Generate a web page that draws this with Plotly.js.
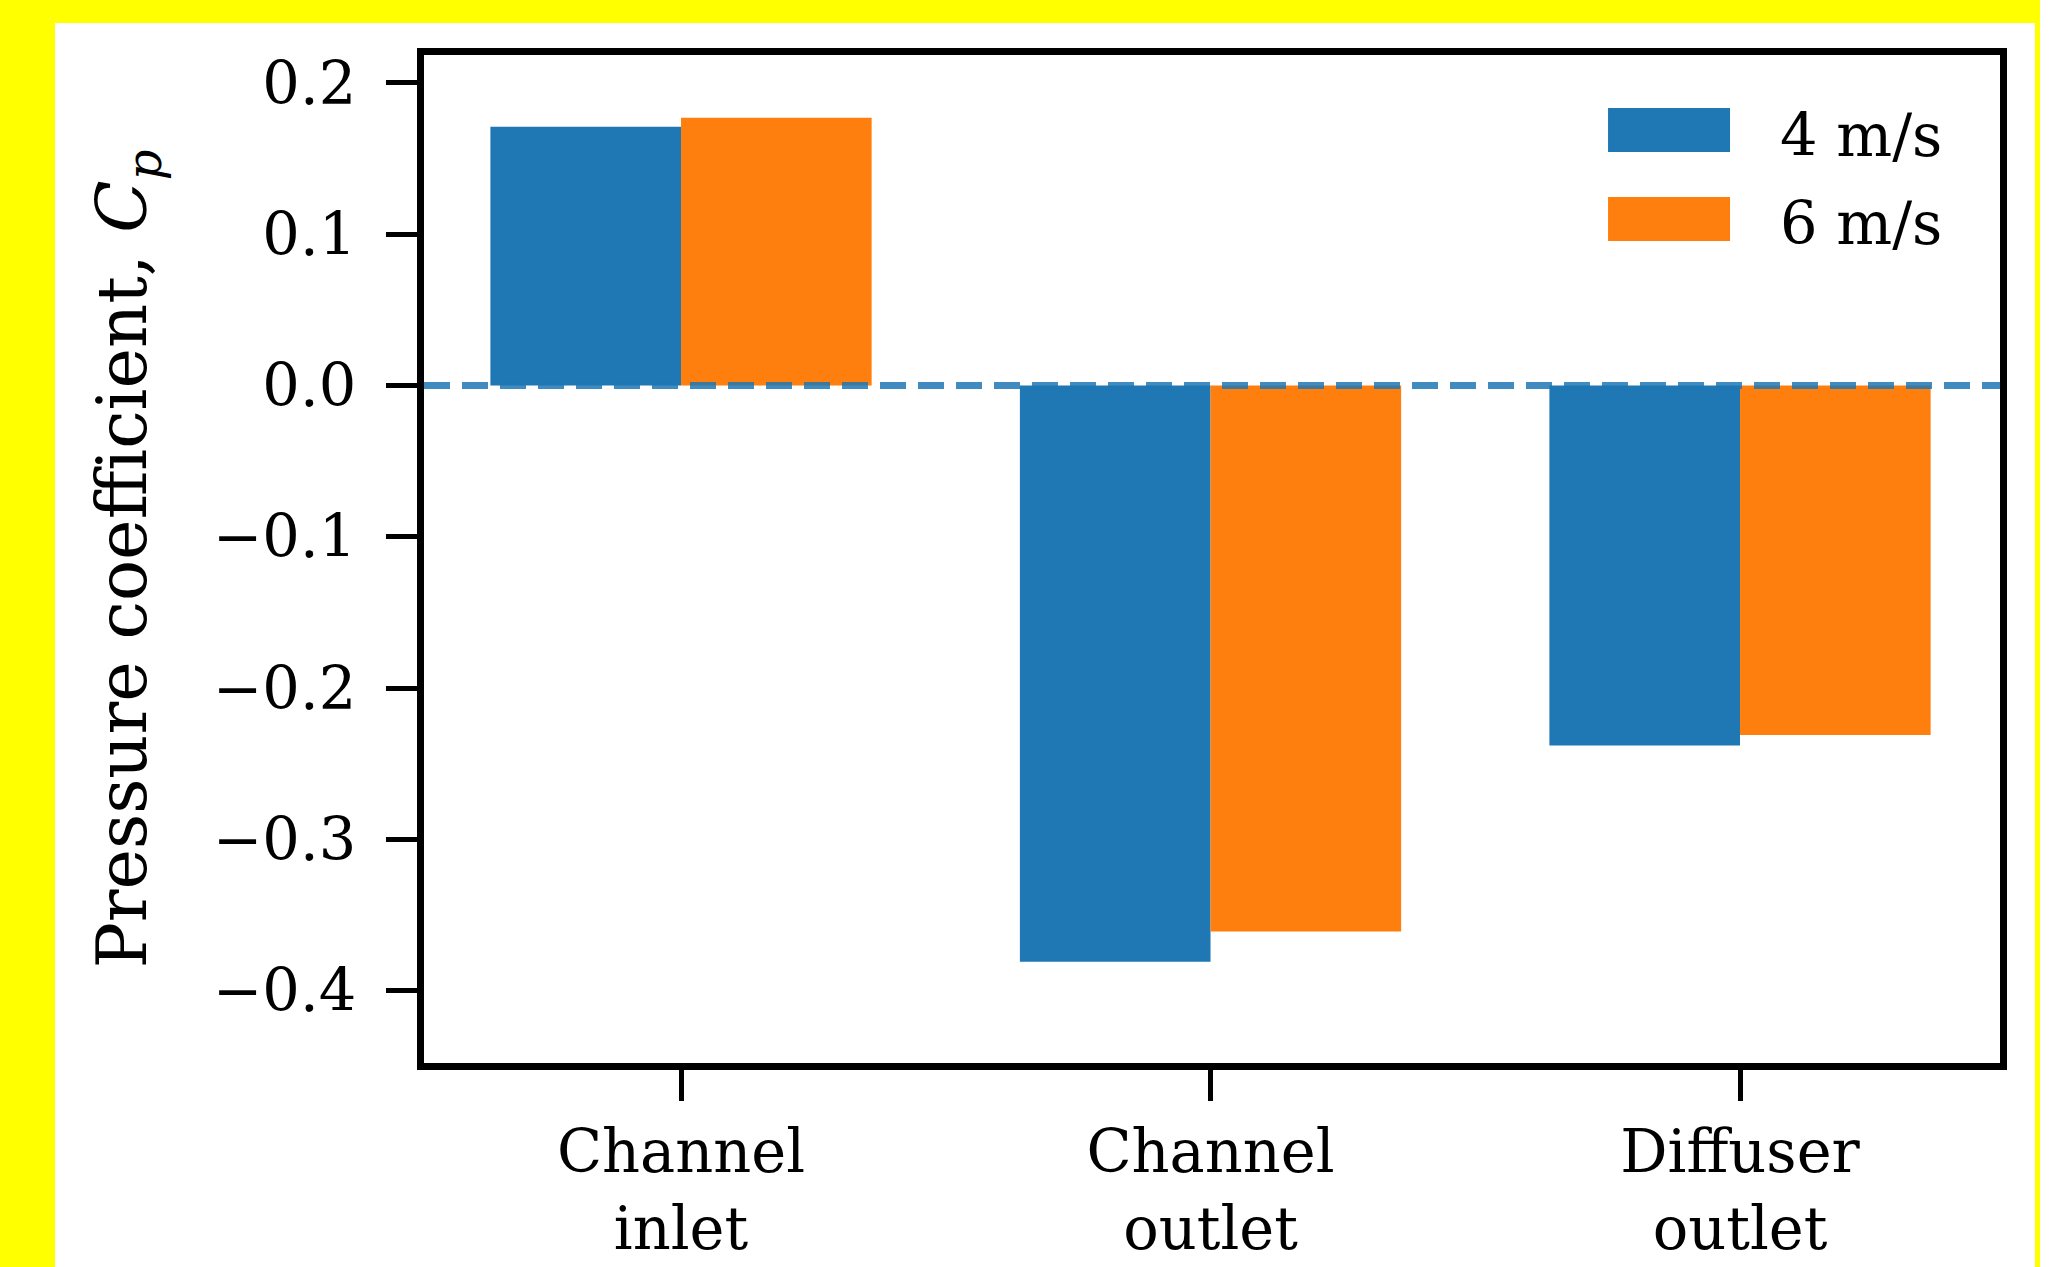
<!DOCTYPE html>
<html>
<head>
<meta charset="utf-8">
<script src="https://cdn.plot.ly/plotly-3.0.1.min.js"></script>
<style>
  html, body { margin: 0; padding: 0; background: #ffffff; width: 2072px; height: 1267px; overflow: hidden; }
  #frame { position: absolute; left: 0; top: 0; width: 2040px; height: 1267px; background: #ffff00; }
  #chart { position: absolute; left: 55px; top: 23px; width: 1980px; height: 1244px; background: #ffffff; }
</style>
</head>
<body>
<div id="frame"></div>
<div id="chart"></div>
<script>
// Pressure coefficient at three measurement stations, two inflow speeds
const categories = ['Channel inlet', 'Channel outlet', 'Diffuser outlet'];
const tickLabels = ['Channel<br>inlet', 'Channel<br>outlet', 'Diffuser<br>outlet'];
const seriesNames = ['4 m/s', '6 m/s'];
const cp4 = [0.171, -0.381, -0.238];
const cp6 = [0.177, -0.361, -0.231];
const yTicks = [-0.4, -0.3, -0.2, -0.1, 0.0, 0.1, 0.2];

const colors = ['#1f77b4', '#ff7f0e'];
const fontFamily = 'DejaVu Serif, Liberation Serif, serif';

const traces = [cp4, cp6].map((vals, i) => ({
  type: 'bar',
  x: categories,
  y: vals,
  name: seriesNames[i],
  marker: { color: colors[i], line: { width: 0 } },
  showlegend: false,
  hoverinfo: 'x+y'
}));

// legend drawn as large patches with labels, placed in the upper right of the axes
const legendPatchX = [0.7513, 0.8287];
const legendRows = [[0.9038, 0.9474], [0.8156, 0.8592]];
const legendShapes = legendRows.map((r, i) => ({
  type: 'rect', xref: 'paper', yref: 'paper',
  x0: legendPatchX[0], x1: legendPatchX[1], y0: r[0], y1: r[1],
  fillcolor: colors[i], line: { width: 0 }, layer: 'above'
}));
const legendLabels = legendRows.map((r, i) => ({
  xref: 'paper', yref: 'paper',
  x: 0.8591, y: (r[0] + r[1]) / 2 - 0.005,
  xanchor: 'left', yanchor: 'middle',
  text: seriesNames[i], showarrow: false,
  font: { family: fontFamily, size: 59, color: '#000000' }
}));

const layout = {
  width: 1980,
  height: 1244,
  margin: { l: 369, r: 35, t: 32, b: 203.5 },
  paper_bgcolor: '#ffffff',
  plot_bgcolor: '#ffffff',
  font: { family: fontFamily, size: 59, color: '#000000' },
  barmode: 'group',
  bargap: 0.28,
  bargroupgap: 0,
  xaxis: {
    type: 'category',
    range: [-0.4854, 2.491],
    tickmode: 'array',
    tickvals: categories,
    ticktext: tickLabels,
    ticks: 'outside', ticklen: 31, tickwidth: 5, tickcolor: '#000000',
    showline: true, linewidth: 7, linecolor: '#000000', mirror: true,
    showgrid: false, zeroline: false,
    tickfont: { family: fontFamily, size: 59, color: '#000000' }
  },
  yaxis: {
    range: [-0.4479, 0.2185],
    tickmode: 'array',
    tickvals: yTicks,
    tickformat: '.1f',
    ticks: 'outside', ticklen: 31, tickwidth: 5, tickcolor: '#000000',
    ticklabelstandoff: 18,
    showline: true, linewidth: 7, linecolor: '#000000', mirror: true,
    showgrid: false, zeroline: false,
    tickfont: { family: fontFamily, size: 59, color: '#000000' },
    title: {
      text: 'Pressure coefficient, <i>C</i><sub><i>p</i></sub>',
      font: { family: fontFamily, size: 68.5, color: '#000000' },
      standoff: 46
    }
  },
  shapes: [
    {
      type: 'line', xref: 'paper', yref: 'y',
      x0: 0, x1: 1, y0: 0, y1: 0,
      line: { color: 'rgba(31,119,180,0.85)', width: 7, dash: '26px,12px' },
      layer: 'above'
    }
  ].concat(legendShapes),
  annotations: legendLabels
};

Plotly.newPlot('chart', traces, layout, { displayModeBar: false, staticPlot: true });
</script>
</body>
</html>
